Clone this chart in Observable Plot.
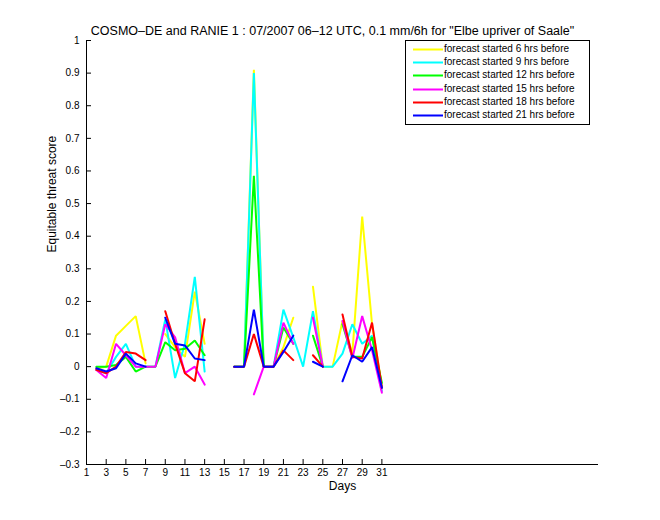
<!DOCTYPE html>
<html><head><meta charset="utf-8">
<script src="https://cdn.jsdelivr.net/npm/d3@7"></script>
<script src="https://cdn.jsdelivr.net/npm/@observablehq/plot@0.6"></script>
<style>
body{margin:0;background:#fff;}
#wrap{position:relative;width:660px;height:520px;background:#fff;}
#legend{position:absolute;left:405px;top:40px;width:185px;height:85px;border:1px solid #000;background:#fff;box-sizing:border-box;font:10px "Liberation Sans",Arial,sans-serif;color:#000;}
.row{position:absolute;left:7px;height:12px;line-height:12px;white-space:nowrap;}
.row svg{vertical-align:top;margin-right:1px;}
</style></head>
<body><div id="wrap"><div id="legend"></div></div>
<script>
const days = [1,2,3,4,5,6,7,8,9,10,11,12,13,14,15,16,17,18,19,20,21,22,23,24,25,26,27,28,29,30,31];
const xTicks = [1,3,5,7,9,11,13,15,17,19,21,23,25,27,29,31];
const yTicks = [-0.3,-0.2,-0.1,0,0.1,0.2,0.3,0.4,0.5,0.6,0.7,0.8,0.9,1];
const xDomain = [1, 53];
const yDomain = [-0.3, 1];

const seriesNames = ["forecast started 6 hrs before","forecast started 9 hrs before","forecast started 12 hrs before","forecast started 15 hrs before","forecast started 18 hrs before","forecast started 21 hrs before"];
const seriesColors = ["#ffff00","#00ffff","#00ff00","#ff00ff","#ff0000","#0000ff"];

const s6  = [null,-0.005,0.0,0.095,0.125,0.155,0.01,null,0.10,0.06,0.03,0.23,0.07,null,null,0,0,0.91,0,0,0.06,0.15,null,0.245,0,0,0.14,0.04,0.46,0.13,-0.06];
const s9  = [null,-0.01,-0.02,0.03,0.07,0.0,0,0,0.145,-0.035,0.07,0.275,-0.015,null,null,0,0,0.90,0,0,0.175,0.09,0,0.17,0,0,0.04,0.13,0.07,0.095,-0.075];
const s12 = [null,0,0,0.005,0.03,-0.015,0,0,0.075,0.05,0.055,0.08,0.035,null,null,0,0,0.585,0,0,0.12,0.07,null,0.095,0,null,0.13,0.03,0.03,0.09,-0.05];
const s15 = [null,-0.01,-0.035,0.07,0.035,0.0,0,0,0.13,0.09,-0.02,0.0,-0.055,null,null,0,null,-0.085,0,0,0.135,0.07,null,0.15,0,null,0.14,0.025,0.155,0.05,-0.08];
const s18 = [null,-0.01,-0.02,0.0,0.045,0.04,0.02,null,0.17,0.07,-0.02,-0.045,0.145,null,null,0,0,0.10,0,0,0.05,0.02,null,0.035,0,null,0.16,0.03,0.025,0.135,-0.065];
const s21 = [null,-0.005,-0.015,-0.005,0.04,0.01,0.0,null,0.15,0.07,0.065,0.025,0.02,null,null,0,0,0.175,0,0,0.045,0.095,null,0.015,0,null,-0.045,0.035,0.015,0.06,-0.065];
const seriesValues = [s6,s9,s12,s15,s18,s21];

const titleText = "COSMO\u2013DE and RANIE 1 : 07/2007 06\u201312 UTC, 0.1 mm/6h for \"Elbe upriver of Saale\"";
const yFmt = d => d === 0 ? "0" : d === 1 ? "1" : (d < 0 ? "\u2013" + (-d).toFixed(1) : d.toFixed(1));

const lineMarks = seriesValues.map((vals, k) =>
  Plot.line(days.map((d, i) => ({day: d, v: vals[i]})), {
    x: "day", y: "v", stroke: seriesColors[k], strokeWidth: 2, strokeLinejoin: "miter"
  })
);

const plot = Plot.plot({
  width: 660, height: 520,
  marginLeft: 86, marginRight: 62, marginTop: 40, marginBottom: 56,
  style: {fontFamily: '"Liberation Sans", Arial, sans-serif', fontSize: "10px", background: "#fff", color: "#000", overflow: "visible"},
  x: {domain: xDomain},
  y: {domain: yDomain},
  marks: [
    Plot.axisX({ticks: xTicks, tickSize: 0, tickPadding: 4, tickFormat: d => String(d), label: null}),
    Plot.axisY({ticks: yTicks, tickSize: 0, tickPadding: 7, tickFormat: yFmt, label: null}),
    Plot.tickX(xTicks, {x: d => d, insetTop: 419, stroke: "#000"}),
    Plot.tickY(yTicks, {y: d => d, insetRight: 507, stroke: "#000"}),
    Plot.ruleX([xDomain[0]], {stroke: "#000"}),
    Plot.ruleY([yDomain[0]], {stroke: "#000"}),
    ...lineMarks,
    Plot.text([titleText], {text: d => d, frameAnchor: "top", dy: -14, dx: -10, fontSize: 12.5}),
    Plot.text(["Days"], {text: d => d, frameAnchor: "bottom", dy: 25, fontSize: 12}),
    Plot.text(["Equitable threat score"], {text: d => d, frameAnchor: "left", rotate: -90, dx: -34, fontSize: 12})
  ]
});
const wrap = document.getElementById("wrap");
wrap.insertBefore(plot, wrap.firstChild);

const legend = document.getElementById("legend");
seriesNames.forEach((name, k) => {
  const row = document.createElement("div");
  row.className = "row";
  row.style.top = (2 + k * 13.2) + "px";
  row.innerHTML = `<svg width="30" height="12"><line x1="0" x2="30" y1="6.5" y2="6.5" stroke="${seriesColors[k]}" stroke-width="2"/></svg><span>${name}</span>`;
  legend.appendChild(row);
});
</script>
</body></html>
